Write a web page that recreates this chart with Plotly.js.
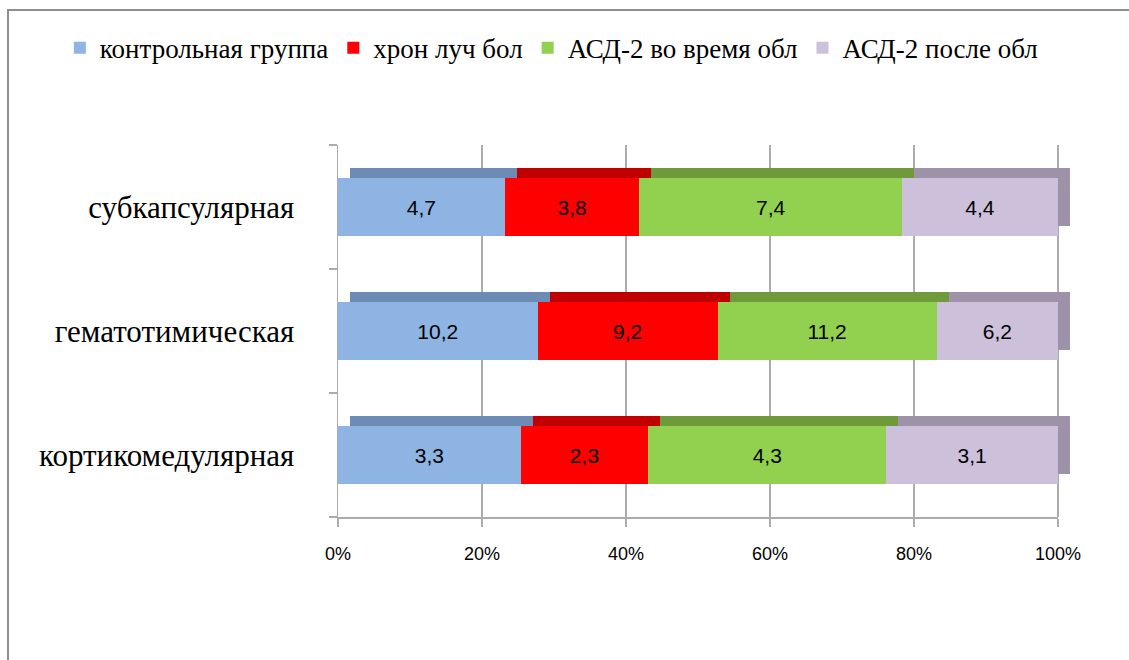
<!DOCTYPE html>
<html>
<head>
<meta charset="utf-8">
<script src="https://cdn.plot.ly/plotly-3.0.1.min.js"></script>
<style>
  html, body { margin: 0; padding: 0; background: #fff; }
  #wrap { position: relative; width: 1129px; height: 660px; }
  #chart { width: 1129px; height: 660px; }
  #frame {
    position: absolute; left: 7px; top: 9px; right: -2px; bottom: -2px;
    border-left: 2px solid #8f8f8f; border-top: 2px solid #8f8f8f;
    pointer-events: none;
  }
</style>
</head>
<body>
<div id="wrap">
  <div id="chart"></div>
  <div id="frame"></div>
</div>
<script>
// Categories listed bottom to top
const categories = ['кортикомедулярная', 'гематотимическая', 'субкапсулярная'];

const seriesNames = ['контрольная группа', 'хрон луч бол', 'АСД-2 во время обл', 'АСД-2 после обл'];

// Values per series, in the same order as categories
const control   = [3.3, 10.2, 4.7];
const chronic   = [2.3, 9.2, 3.8];
const asdDuring = [4.3, 11.2, 7.4];
const asdAfter  = [3.1, 6.2, 4.4];

const percentTicks = [0, 20, 40, 60, 80, 100];
const percentLabels = ['0%', '20%', '40%', '60%', '80%', '100%'];

const seriesValues = [control, chronic, asdDuring, asdAfter];
const faceColors = ['#8DB4E2', '#FF0000', '#92D050', '#CCC0DA'];
const topColors  = ['#6C8BB5', '#C00000', '#6E9A3A', '#9D92A8'];

// Geometry of the extruded look (pixels)
const frontW = 720, bandH = 124;
const depthX = 12, depthY = 10;
const areaW = frontW + depthX;
const shiftX = depthX / frontW * 100;   // back layer offset in axis units
const shiftY = depthY / bandH;

const traces = [];

// Darker copies behind the bars form the top face
seriesValues.forEach((vals, i) => {
  traces.push({
    type: 'bar', orientation: 'h',
    x: vals, y: categories,
    xaxis: 'x', yaxis: 'y',
    marker: { color: topColors[i], line: { width: 0 } },
    showlegend: false, hoverinfo: 'skip'
  });
});

// Front faces with value labels
seriesValues.forEach((vals, i) => {
  traces.push({
    type: 'bar', orientation: 'h',
    name: seriesNames[i],
    x: vals, y: categories,
    xaxis: 'x2', yaxis: 'y2',
    text: vals.map(v => v.toFixed(1).replace('.', ',')),
    textposition: 'inside',
    insidetextanchor: 'middle',
    textangle: 0,
    constraintext: 'none',
    textfont: { family: 'Liberation Sans, Arial, sans-serif', size: 21, color: '#000' },
    marker: { color: faceColors[i], line: { width: 0 } },
    hoverinfo: 'name+x'
  });
});

const gray = '#ABABAB';

const layout = {
  width: 1129, height: 660,
  paper_bgcolor: '#fff', plot_bgcolor: 'rgba(0,0,0,0)',
  margin: { l: 338, r: 1129 - 338 - areaW, t: 145, b: 143 },
  barmode: 'stack', barnorm: 'percent',
  bargap: 0.53,
  separators: ', ',
  showlegend: true,
  legend: {
    orientation: 'h',
    x: -0.38, xanchor: 'left',
    y: 1.26, yanchor: 'middle',
    font: { family: 'Liberation Serif, Times New Roman, serif', size: 27, color: '#000' },
    itemwidth: 30,
    traceorder: 'normal',
    bgcolor: 'rgba(0,0,0,0)'
  },
  // back layer: same scale as the front, offset right and up; it also carries the grid
  xaxis: {
    domain: [0, 1],
    range: [-shiftX, 100],
    tickvals: percentTicks.map(v => v - shiftX),
    showticklabels: false, ticks: '',
    showgrid: true, gridcolor: gray, gridwidth: 1.5,
    showline: false, zeroline: false,
    anchor: 'y', fixedrange: true
  },
  yaxis: {
    domain: [0, 1],
    type: 'category', categoryarray: categories, categoryorder: 'array',
    range: [-0.5 - shiftY, 2.5 - shiftY],
    visible: false, anchor: 'x', fixedrange: true
  },
  xaxis2: {
    domain: [0, frontW / areaW], anchor: 'y2', side: 'bottom',
    range: [0, 100],
    tickvals: percentTicks, ticktext: percentLabels,
    showgrid: false,
    showline: true, linecolor: gray, linewidth: 1.5,
    ticks: 'outside', ticklen: 8, tickcolor: gray, tickwidth: 1.5,
    ticklabelstandoff: 12,
    zeroline: false,
    tickfont: { family: 'Liberation Sans, Arial, sans-serif', size: 18, color: '#000' },
    fixedrange: true
  },
  yaxis2: {
    domain: [0, 1], anchor: 'x2', side: 'left',
    type: 'category', categoryarray: categories, categoryorder: 'array',
    range: [-0.5, 2.5],
    showgrid: false, zeroline: false,
    showline: true, linecolor: gray, linewidth: 1.5,
    ticks: 'outside', tickson: 'boundaries', ticklen: 8, tickcolor: gray, tickwidth: 1.5,
    ticklabelstandoff: 36,
    tickfont: { family: 'Liberation Serif, Times New Roman, serif', size: 31, color: '#000' },
    fixedrange: true
  }
};

Plotly.newPlot('chart', traces, layout, { displayModeBar: false, staticPlot: true });
</script>
</body>
</html>
